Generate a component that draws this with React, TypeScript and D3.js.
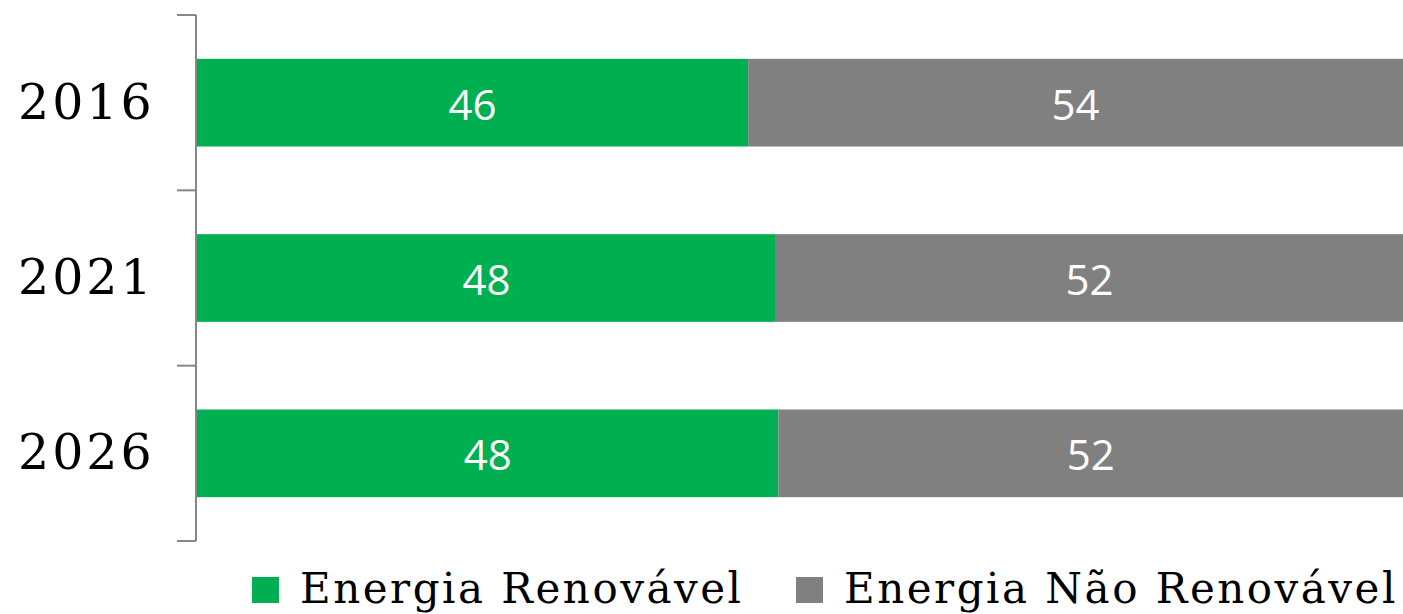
import React, { useEffect, useRef } from 'react';
import * as d3 from 'd3';

const years = ['2016', '2021', '2026'];
const renovavel = [45.7, 48.0, 48.2];
const naoRenovavel = [54.3, 52.0, 51.8];
const seriesNames = ['Energia Renovável', 'Energia Não Renovável'];
const seriesColors = ['#00B050', '#808080'];

const App = () => {
  const ref = useRef<SVGSVGElement>(null);

  useEffect(() => {
    const svg = d3.select(ref.current);
    svg.selectAll('*').remove();

    const left = 197, right = 1403, top = 15, bottom = 541;

    const x = d3.scaleLinear().domain([0, 100]).range([left, right]);
    const y = d3.scaleBand().domain(years).range([top, bottom]).paddingInner(0.5).paddingOuter(0.25);

    const rows = years.map((yr, i) => ({ year: yr, values: [renovavel[i], naoRenovavel[i]] }));

    // bars + value labels
    rows.forEach(r => {
      let start = 0;
      r.values.forEach((v, k) => {
        const x0 = x(start), x1 = x(start + v);
        svg.append('rect')
          .attr('x', x0)
          .attr('y', y(r.year)!)
          .attr('width', x1 - x0)
          .attr('height', y.bandwidth())
          .attr('fill', seriesColors[k]);
        svg.append('text')
          .attr('x', (x0 + x1) / 2)
          .attr('y', y(r.year)! + y.bandwidth() / 2 + 17)
          .attr('text-anchor', 'middle')
          .attr('font-family', '"Open Sans", sans-serif')
          .attr('font-size', 42)
          .attr('fill', '#fff')
          .text(Math.round(v));
        start += v;
      });
    });

    // category axis
    const axisX = 196;
    svg.append('line')
      .attr('x1', axisX).attr('x2', axisX)
      .attr('y1', top).attr('y2', bottom)
      .attr('stroke', '#868686').attr('stroke-width', 2);
    const ticks = d3.range(years.length + 1).map(i => top + i * (bottom - top) / years.length);
    svg.selectAll('.tick')
      .data(ticks)
      .enter().append('line')
      .attr('x1', 177).attr('x2', axisX)
      .attr('y1', d => d).attr('y2', d => d)
      .attr('stroke', '#868686').attr('stroke-width', 2);

    svg.selectAll('.yl')
      .data(years)
      .enter().append('text')
      .attr('x', 18)
      .attr('y', d => y(d)! + y.bandwidth() / 2 + 16)
      .attr('font-family', '"DejaVu Serif", serif')
      .attr('font-size', 49)
      .attr('letter-spacing', 3)
      .attr('fill', '#000')
      .text(d => d);

    // legend
    const legendX = [252, 796];
    seriesNames.forEach((name, k) => {
      svg.append('rect')
        .attr('x', legendX[k]).attr('y', 577)
        .attr('width', 27).attr('height', 26)
        .attr('fill', seriesColors[k]);
      svg.append('text')
        .attr('x', legendX[k] + 48)
        .attr('y', 603)
        .attr('font-family', '"DejaVu Serif", serif')
        .attr('font-size', 42)
        .attr('letter-spacing', 2.5)
        .attr('fill', '#000')
        .text(name);
    });
  }, []);

  return (
    <svg ref={ref} width={1403} height={614}
      style={{ position: 'absolute', left: 0, top: 0, background: '#fff' }} />
  );
};

export default App;
